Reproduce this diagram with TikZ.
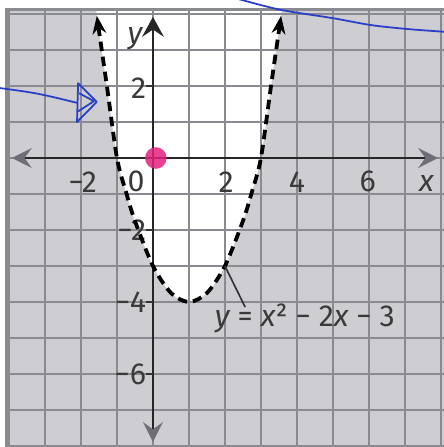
\documentclass[tikz,border=0pt]{standalone}
\usepackage{fontspec}
\setmainfont{Fira Sans}
\usetikzlibrary{arrows.meta,calc,positioning}
\definecolor{paper}{HTML}{CDCDD2}
\definecolor{gridgray}{HTML}{8A8A91}
\definecolor{axisgray}{HTML}{6E6E76}
\definecolor{inkblue}{HTML}{2A3FC8}
\definecolor{dotpink}{HTML}{E3207E}
\definecolor{textgray}{HTML}{3A3A3A}
\tikzset{gridln/.style={draw=gridgray, line width=1pt}, frame/.style={draw=gridgray, line width=2.2pt}, axisln/.style={line width=2.2pt, color=black!85}, tickln/.style={line width=1.3pt, color=black!80}, curve/.style={dash pattern=on 7.5pt off 4.5pt, line width=3pt, {Stealth[length=5mm,width=3.8mm]}-{Stealth[length=5mm,width=3.8mm]}}, lab/.style={font=\fontsize{24}{28}\selectfont, text=textgray, inner sep=1pt}, ink/.style={draw=inkblue, line width=1.4pt, line cap=round, line join=round}}

\begin{document}
\begin{tikzpicture}[x=1cm,y=1cm]
\useasboundingbox (-4.25,-8.03) rectangle (8.08,4.39);
\fill[paper] (-4.1,-8.2) rectangle (8.2,4.12);
\fill[white] (-1.58,4.12) -- plot[smooth] coordinates {(-1.56,3.95) (-1.28,2) (-1,0) (-0.75,-0.94) (-0.5,-1.75) (0,-3) (0.5,-3.75) (1,-4) (1.5,-3.75) (2,-3) (2.5,-1.75) (2.75,-0.94) (3,0) (3.28,2) (3.56,3.95)} -- (3.58,4.12) -- cycle;
\draw[gridln] (-4.1,-8.2) grid (8.2,4.12);
\draw[frame] (-4.08,-8.2) -- (-4.08,4.12) -- (8.2,4.12);
\coordinate (xmin) at (-3.92,0); \coordinate (xmax) at (7.92,0); \coordinate (ymin) at (0,-7.89); \coordinate (ymax) at (0,3.92);
\draw[axisln, {Stealth[length=5.5mm,width=5.5mm,inset=2mm,color=axisgray]}-{Stealth[length=5.5mm,width=5.5mm,inset=2mm,color=axisgray]}] (xmin) -- (xmax);
\draw[axisln, {Stealth[length=5.5mm,width=5.5mm,inset=2mm,color=axisgray]}-{Stealth[length=5.5mm,width=6mm,inset=2mm]}] (ymin) -- (ymax);
\foreach \v in {-6,-4,-2,2} \draw[tickln] (-0.18,\v) -- (0,\v);
\node[lab] (ylab) at (-0.5,3.3) {\itshape y}; \node[lab] (xlab) at (7.6,-0.72) {\itshape x};
\node[lab] (orig) at (-0.47,-0.66) {0};
\foreach \v/\s/\t in {-1.95/{−2}/m2, 2.03/2/p2, 4/4/p4, 5.97/6/p6} \node[lab] (x\t) at (\v,-0.66) {\s};
\foreach \v/\s/\t in {1.94/2/p2, -2/{−2}/m2, -4/{−4}/m4, -6/{−6}/m6} \node[lab, anchor=east] (y\t) at (-0.15,\v) {\s};
\draw[curve] plot[smooth] coordinates {(-1.56,3.95) (-1.28,2) (-1,0) (-0.75,-0.94) (-0.5,-1.75) (0,-3) (0.5,-3.75) (1,-4) (1.5,-3.75) (2,-3) (2.5,-1.75) (2.75,-0.94) (3,0) (3.28,2) (3.56,3.95)};
\node[circle, fill=dotpink, opacity=.85, minimum size=0.6cm, inner sep=0pt] (dot) at (0.08,0) {};
\coordinate (onc) at (2,-3); \coordinate (ldr) at (2.56,-4.14); \draw[tickln] (onc) -- (ldr);
\node[lab] (eqn) at (4.22,-4.47) {{\itshape y} = {\itshape x}² − 2{\itshape x} − 3};
\draw[ink] plot[smooth] coordinates {(2.1,4.5) (2.47,4.39) (3.58,4.11) (4.97,3.89) (6.08,3.69) (7.11,3.58) (8.2,3.5)};
\draw[ink] (-4.3,1.95) .. controls (-3.2,1.8) .. (-2.1,1.53);
\draw[ink] (-2.08,2.08) -- (-1.56,1.56) -- (-2.11,1.0) -- cycle; \draw[ink] (-2.05,1.8) -- (-1.64,1.58) -- (-2.07,1.3);
\end{tikzpicture}
\end{document}
